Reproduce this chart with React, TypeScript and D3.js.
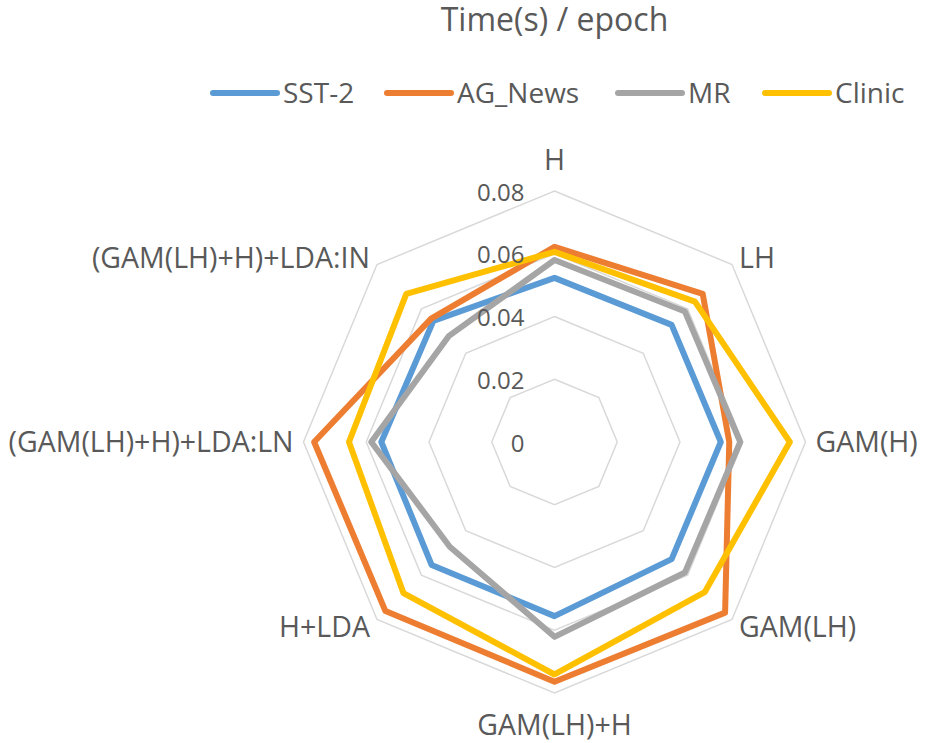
import React, {useEffect, useRef} from 'react';
import * as d3 from 'd3';

// 坐标轴（顺时针，从正上方开始）
const axes = ['H', 'LH', 'GAM(H)', 'GAM(LH)', 'GAM(LH)+H', 'H+LDA', '(GAM(LH)+H)+LDA:LN', '(GAM(LH)+H)+LDA:IN'];

// 各数据集的值
const sst2 = [0.0523, 0.0528, 0.0530, 0.0528, 0.0555, 0.0554, 0.0552, 0.0546];
const agNews = [0.0622, 0.0668, 0.0557, 0.0769, 0.0764, 0.0762, 0.0766, 0.0556];
const mr = [0.0580, 0.0588, 0.0592, 0.0588, 0.0621, 0.0472, 0.0584, 0.0477];
const clinic = [0.0606, 0.0633, 0.0750, 0.0677, 0.0741, 0.0681, 0.0655, 0.0668];

const seriesNames = ['SST-2', 'AG_News', 'MR', 'Clinic'];
const seriesColors = ['#5B9BD5', '#ED7D31', '#A5A5A5', '#FFC000'];
const tickValues = [0, 0.02, 0.04, 0.06, 0.08];

const W = 925;
const H = 743;
const FONT = '"Open Sans", sans-serif';
const TEXT = '#595959';

const App = () => {
  const ref = useRef<SVGSVGElement>(null);

  useEffect(() => {
    const svg = d3.select(ref.current);
    svg.selectAll('*').remove();

    const cx = 554.5;
    const cy = 442;
    const R = 251;
    const r = d3.scaleLinear().domain([0, 0.08]).range([0, R]);
    const angle = d3.scaleLinear().domain([0, axes.length]).range([0, Math.PI * 2]);

    const g = svg.append('g').attr('transform', `translate(${cx},${cy})`);

    // 网格八边形
    const ring = d3.lineRadial<number>()
      .angle((d, i) => angle(i))
      .radius(d => r(d))
      .curve(d3.curveLinearClosed);

    tickValues.filter(t => t > 0).forEach(t => {
      g.append('path')
        .attr('d', ring(axes.map(() => t)))
        .attr('fill', 'none')
        .attr('stroke', '#D9D9D9')
        .attr('stroke-width', 1.5);
    });

    // 数据线
    const data = [sst2, agNews, mr, clinic];
    data.forEach((vals, k) => {
      g.append('path')
        .attr('d', ring(vals))
        .attr('fill', 'none')
        .attr('stroke', seriesColors[k])
        .attr('stroke-width', 6)
        .attr('stroke-linejoin', 'round');
    });

    // 刻度标签
    g.selectAll('text.tick')
      .data(tickValues)
      .enter()
      .append('text')
      .attr('class', 'tick')
      .attr('x', -30)
      .attr('y', d => -r(d) + 1)
      .attr('dy', '0.36em')
      .attr('text-anchor', 'end')
      .attr('font-family', FONT)
      .attr('font-size', 24)
      .attr('fill', TEXT)
      .text(d => String(d));

    // 轴标签
    const pad = 10;
    axes.forEach((name, i) => {
      const a = angle(i);
      const s = Math.sin(a);
      const c = Math.cos(a);
      let x = s * (R + pad);
      let y = -c * (R + pad);
      let anchor = 'middle';
      if (s > 0.1) anchor = 'start';
      if (s < -0.1) anchor = 'end';
      if (c > 0.9) y -= 21;
      else if (c < -0.9) y += 22;
      g.append('text')
        .attr('x', x)
        .attr('y', y)
        .attr('dy', '0.36em')
        .attr('text-anchor', anchor)
        .attr('font-family', FONT)
        .attr('font-size', 28.5)
        .attr('fill', TEXT)
        .text(name);
    });

    // 标题
    svg.append('text')
      .attr('x', cx)
      .attr('y', 31)
      .attr('text-anchor', 'middle')
      .attr('font-family', FONT)
      .attr('font-size', 32)
      .attr('fill', TEXT)
      .text('Time(s) / epoch');

    // 图例
    const legendX = [213, 387, 618, 765];
    const legend = svg.selectAll('g.legend')
      .data(seriesNames)
      .enter()
      .append('g')
      .attr('class', 'legend')
      .attr('transform', (d, i) => `translate(${legendX[i]},93)`);
    legend.append('line')
      .attr('x1', 0)
      .attr('x2', 64)
      .attr('stroke', (d, i) => seriesColors[i])
      .attr('stroke-width', 6)
      .attr('stroke-linecap', 'round');
    legend.append('text')
      .attr('x', 70)
      .attr('dy', '0.36em')
      .attr('font-family', FONT)
      .attr('font-size', 28)
      .attr('fill', TEXT)
      .text(d => d);
  }, []);

  return (
    <svg ref={ref} width={W} height={H}
         style={{position: 'absolute', left: 0, top: 0, background: '#fff'}}/>
  );
};

export default App;
